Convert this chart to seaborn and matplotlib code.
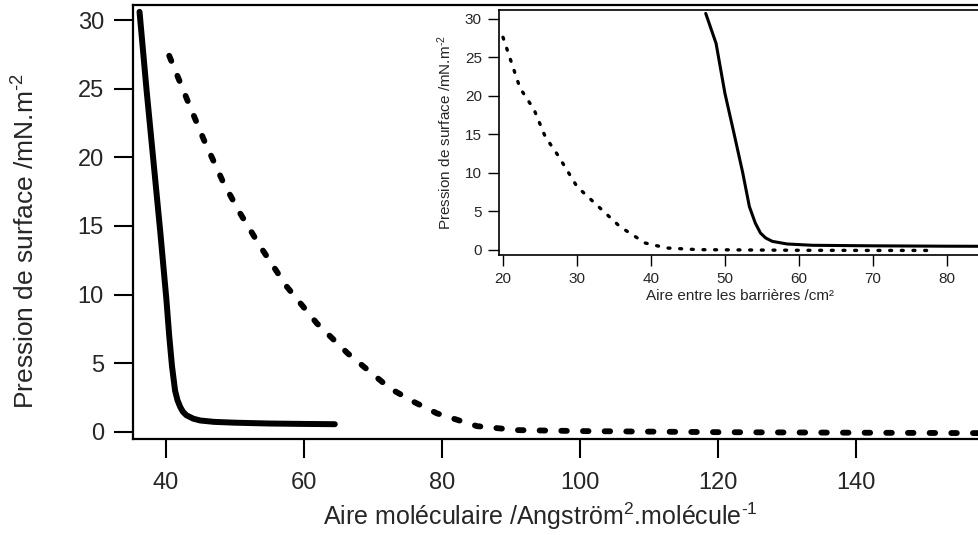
import matplotlib
matplotlib.use("Agg")
import matplotlib.pyplot as plt
import seaborn as sns

# isotherme principal (aire moleculaire)
aire_solide = [36.2, 37.2, 38.2, 39.2, 40.1, 40.5, 40.9, 41.35, 41.7, 42.1, 42.5, 43.0, 44.0,
               45.0, 47.0, 50.0, 55.0, 60.0, 64.5]
pi_solide = [30.6, 25.0, 19.8, 14.6, 9.6, 7.0, 4.8, 3.0, 2.3, 1.8, 1.45, 1.2, 0.95,
             0.82, 0.72, 0.66, 0.6, 0.57, 0.55]

aire_tirets = [40.5, 43.1, 45.5, 48.4, 50.8, 53.7, 57.5, 61.9, 66.4, 72.5, 75.9, 79.3, 85.1, 90.9,
               100.0, 120.0, 140.0, 158.0]
pi_tirets = [27.4, 24.2, 21.3, 18.1, 15.9, 13.5, 10.6, 7.9, 5.7, 3.16, 2.19, 1.34, 0.41, 0.12,
             0.05, -0.03, -0.07, -0.1]

# encart (aire entre les barrieres)
barr_solide = [47.4, 48.8, 50.0, 51.2, 52.4, 53.3, 54.1, 54.8, 55.5, 56.4, 58.4, 61.8, 70.0, 80.0, 85.0]
pi_barr_solide = [30.7, 26.8, 20.3, 15.2, 10.0, 5.6, 3.46, 2.16, 1.52, 1.08, 0.74, 0.57, 0.5, 0.45, 0.44]

barr_tirets = [20.0, 22.3, 24.2, 25.7, 27.4, 30.0, 32.9, 35.8, 39.2, 42.1, 46.4, 60.0, 70.0, 78.2]
pi_barr_tirets = [27.6, 21.0, 18.2, 14.7, 12.3, 8.2, 5.6, 3.0, 0.87, 0.22, 0.0, -0.08, -0.1, -0.1]

ticks_x = [40, 60, 80, 100, 120, 140]
ticks_y = [0, 5, 10, 15, 20, 25, 30]
ticks_x_encart = [20, 30, 40, 50, 60, 70, 80]

sns.set_style("ticks")
plt.rcParams['font.family'] = ['Liberation Sans', 'DejaVu Sans']
plt.rcParams['mathtext.fontset'] = 'custom'
plt.rcParams['mathtext.rm'] = 'Liberation Sans'
plt.rcParams['mathtext.default'] = 'regular'
plt.rcParams['lines.scale_dashes'] = False

fig = plt.figure(figsize=(9.79, 5.35), dpi=100)

###Graphe principal
ax = fig.add_axes([0.1359, 0.1794, 0.8662, 0.8113])
sns.lineplot(x=aire_solide, y=pi_solide, ax=ax, color='black', lw=4.3, sort=False,
             estimator=None, solid_capstyle='round')
sns.lineplot(x=aire_tirets, y=pi_tirets, ax=ax, color='black', lw=4.2, sort=False,
             estimator=None, linestyle=(0, (4.0, 11.6)), dash_capstyle='round')
ax.set_xlim(35.26, 158.16)
ax.set_ylim(-0.53, 31.1)
ax.set_xticks(ticks_x)
ax.set_yticks(ticks_y)
ax.tick_params(axis='both', direction='out', length=14, width=1.5, labelsize=17, color='black')
ax.tick_params(axis='x', pad=9.5)
ax.tick_params(axis='y', pad=7)
for s in ax.spines.values():
    s.set_linewidth(1.6)
    s.set_color('black')
ax.set_xlabel(r'Aire moléculaire /Angström$^{2}$.molécule$^{\text{-}1}$', fontsize=18)
ax.set_ylabel(r'Pression de surface /mN.m$^{\text{-}2}$', fontsize=19)
ax.xaxis.set_label_coords(0.48, -0.143)
ax.yaxis.set_label_coords(-0.11, 0.455)

###Encart
axi = fig.add_axes([0.5100, 0.5234, 0.4920, 0.4570])
sns.lineplot(x=barr_solide, y=pi_barr_solide, ax=axi, color='black', lw=2.2, sort=False,
             estimator=None)
sns.lineplot(x=barr_tirets, y=pi_barr_tirets, ax=axi, color='black', lw=2.4, sort=False,
             estimator=None, linestyle=(0, (1.4, 7.0)), dash_capstyle='round')
axi.set_xlim(19.5, 84.6)
axi.set_ylim(-0.69, 31.08)
axi.set_xticks(ticks_x_encart)
axi.set_yticks(ticks_y)
axi.tick_params(direction='out', length=8, width=1.0, labelsize=11, pad=4.5, color='black')
for s in axi.spines.values():
    s.set_linewidth(1.2)
    s.set_color('black')
axi.set_xlabel('Aire entre les barrières /cm²', fontsize=11, labelpad=2)
axi.set_ylabel(r'Pression de surface /mN.m$^{\text{-}2}$', fontsize=11, labelpad=8)

fig.savefig('out.png', dpi=100)
